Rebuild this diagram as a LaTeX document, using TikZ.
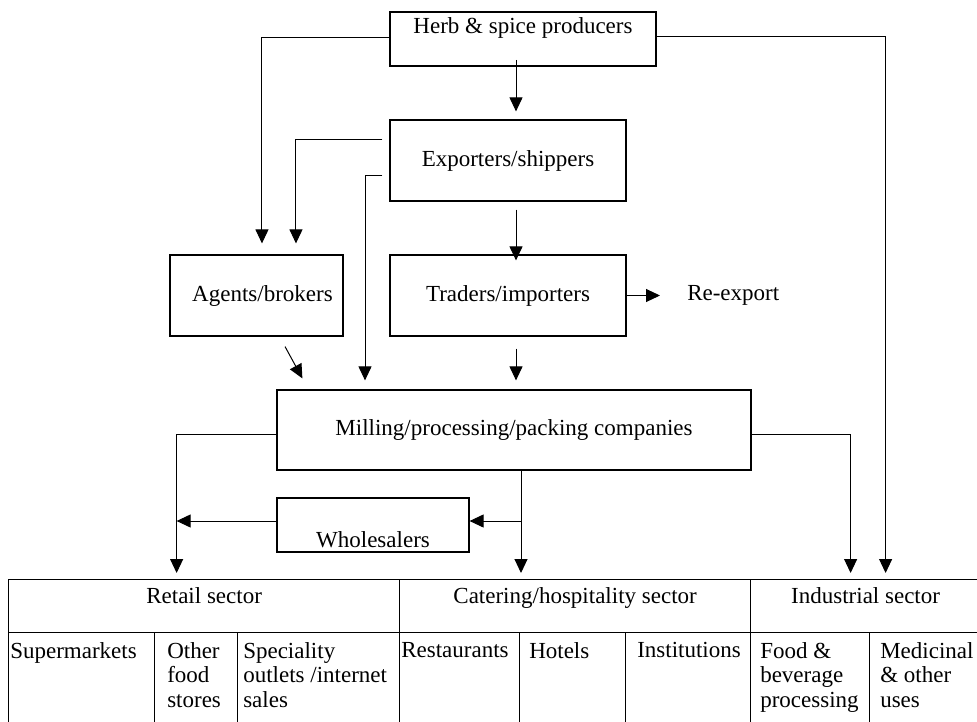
\documentclass[tikz,border=0pt]{standalone}
\usepackage{fontspec}
\setmainfont{Liberation Serif}
\usetikzlibrary{arrows.meta}
\tikzset{
    flow-box/.style = {draw, line width=0.9pt, inner sep=0pt},
    flow-text/.style = {inner sep=0pt},
    flow-arrow/.style = {line width=0.75pt, -{Triangle[length=10.5pt, width=9.75pt]}},
    cell/.style = {draw, line width=0.9pt, anchor=north west, inner sep=0pt, minimum height=#1},
    cell-text/.style = {inner sep=0pt, anchor=north west, align=left},
}

\begin{document}
\begin{tikzpicture}[x=0.75pt, y=-0.75pt, font=\fontsize{17.25}{18.5}\selectfont]
\useasboundingbox (0,0) rectangle (977,721);

% chain boxes
\node [flow-box, minimum width=199.5pt, minimum height=40.5pt] (herb) at (523,39) {};
\node [flow-text, anchor=base] (herb-title) at ([yshift=-16.5pt]herb.north) {Herb \& spice producers};
\node [flow-box, minimum width=177pt, minimum height=60.75pt] (exporters) at (508,160.5) {Exporters/shippers};
\node [flow-box, minimum width=129.75pt, minimum height=60.75pt] (agents) at (256.5,295.5) {\hspace{9pt}Agents/brokers};
\node [flow-box, minimum width=177pt, minimum height=60.75pt] (traders) at (508,295.5) {Traders/importers};
\node [flow-text, anchor=west] (reexport) at (687,295.5) {Re-export};
\node [flow-box, minimum width=355.5pt, minimum height=60pt] (milling) at (514,430) {Milling/processing/packing companies};
\node [flow-box, minimum width=144pt, minimum height=40.5pt] (wholesalers) at (373,525) {};
\node [flow-text, anchor=base] (wholesalers-title) at ([yshift=3.75pt]wholesalers.south) {Wholesalers};

% sector table
\node [cell=39.75pt, minimum width=293.25pt] (retail) at (8,579) {};
\node [cell=39.75pt, minimum width=263.25pt] (catering) at (399,579) {};
\node [cell=39.75pt, minimum width=172.5pt] (industrial) at (750,579) {};
\node [flow-text, anchor=base] (retail-title) at ([yshift=-18pt]retail.north) {Retail sector};
\node [flow-text, anchor=base] (catering-title) at ([yshift=-18pt]catering.north) {Catering/hospitality sector};
\node [flow-text, anchor=base] (industrial-title) at ([yshift=-18pt]industrial.north) {Industrial sector};

\node [cell=69.75pt, minimum width=109.5pt] (supermarkets) at (8,632) {};
\node [cell=69.75pt, minimum width=62.25pt] (otherfood) at (154,632) {};
\node [cell=69.75pt, minimum width=121.5pt] (speciality) at (237,632) {};
\node [cell=69.75pt, minimum width=90pt] (restaurants) at (399,632) {};
\node [cell=69.75pt, minimum width=79.5pt] (hotels) at (519,632) {};
\node [cell=69.75pt, minimum width=93.75pt] (institutions) at (625,632) {};
\node [cell=69.75pt, minimum width=89.25pt] (foodbev) at (750,632) {};
\node [cell=69.75pt, minimum width=83.25pt] (medicinal) at (869,632) {};
\node [cell-text] (supermarkets-text) at ([xshift=1.5pt, yshift=-7.5pt]supermarkets.north west) {Supermarkets};
\node [cell-text] (otherfood-text) at ([xshift=9.75pt, yshift=-7.5pt]otherfood.north west) {Other\\food\\stores};
\node [cell-text] (speciality-text) at ([xshift=4.5pt, yshift=-7.5pt]speciality.north west) {Speciality\\outlets /internet\\sales};
\node [cell-text] (restaurants-text) at ([xshift=1.5pt, yshift=-7.5pt]restaurants.north west) {Restaurants};
\node [cell-text] (hotels-text) at ([xshift=7.5pt, yshift=-7.5pt]hotels.north west) {Hotels};
\node [cell-text] (institutions-text) at ([xshift=9pt, yshift=-7.5pt]institutions.north west) {Institutions};
\node [cell-text] (foodbev-text) at ([xshift=7.5pt, yshift=-7.5pt]foodbev.north west) {Food \&\\beverage\\processing};
\node [cell-text] (medicinal-text) at ([xshift=8.25pt, yshift=-7.5pt]medicinal.north west) {Medicinal\\\& other\\uses};

% from producers
\draw [flow-arrow, shorten <=-5pt, shorten >=6pt] ([xshift=6pt]exporters.north |- herb.south) -- ([xshift=6pt]exporters.north);
\draw [flow-arrow, shorten >=8.25pt] ([yshift=1.5pt]herb.west) -| ([xshift=4.1pt]agents.north);
\draw [flow-arrow, shorten >=4.5pt] ([yshift=2.25pt]herb.east) -| ([xshift=15pt]industrial.north);

% from exporters
\draw [flow-arrow, shorten <=5.25pt, shorten >=8.25pt] ([yshift=15.4pt]exporters.west) -| ([xshift=29.6pt]agents.north);
\draw [flow-arrow, shorten <=5.25pt, shorten >=6.75pt] ([yshift=-11.6pt]exporters.west) -| ([xshift=-111.75pt]milling.north);
\draw [flow-arrow, shorten <=6pt, shorten >=-4.5pt] ([xshift=6pt]exporters.south) -- ([xshift=6pt]traders.north);

% from traders and agents
\draw [flow-arrow, shorten >=20.25pt] (traders.east) -- (reexport.west);
\draw [flow-arrow, shorten <=9pt, shorten >=6.75pt] ([xshift=6pt]traders.south) -- ([xshift=6pt]traders.south |- milling.north);
\draw [flow-arrow] ([xshift=21.4pt, yshift=-7.5pt]agents.south) -- ([xshift=19.5pt, yshift=8.25pt]milling.north west);

% from milling
\draw [flow-arrow, shorten >=4.5pt] ([yshift=-3pt]milling.west) -| ([xshift=-20.6pt]retail.north);
\draw [flow-arrow, shorten >=4.5pt] ([yshift=-3pt]milling.east) -| ([xshift=-11.25pt]industrial.north);
\draw [flow-arrow, shorten >=4.5pt] ([xshift=5.25pt]milling.south) -- ([xshift=5.25pt]milling.south |- catering.north);
\coordinate (fork) at ([xshift=5.25pt, yshift=3pt]milling.south |- wholesalers.east);
\draw [flow-arrow] (fork) -- (fork -| wholesalers.east);
\draw [flow-arrow] (fork -| wholesalers.west) -- ([xshift=-20.6pt]fork -| retail.north);
\end{tikzpicture}
\end{document}
